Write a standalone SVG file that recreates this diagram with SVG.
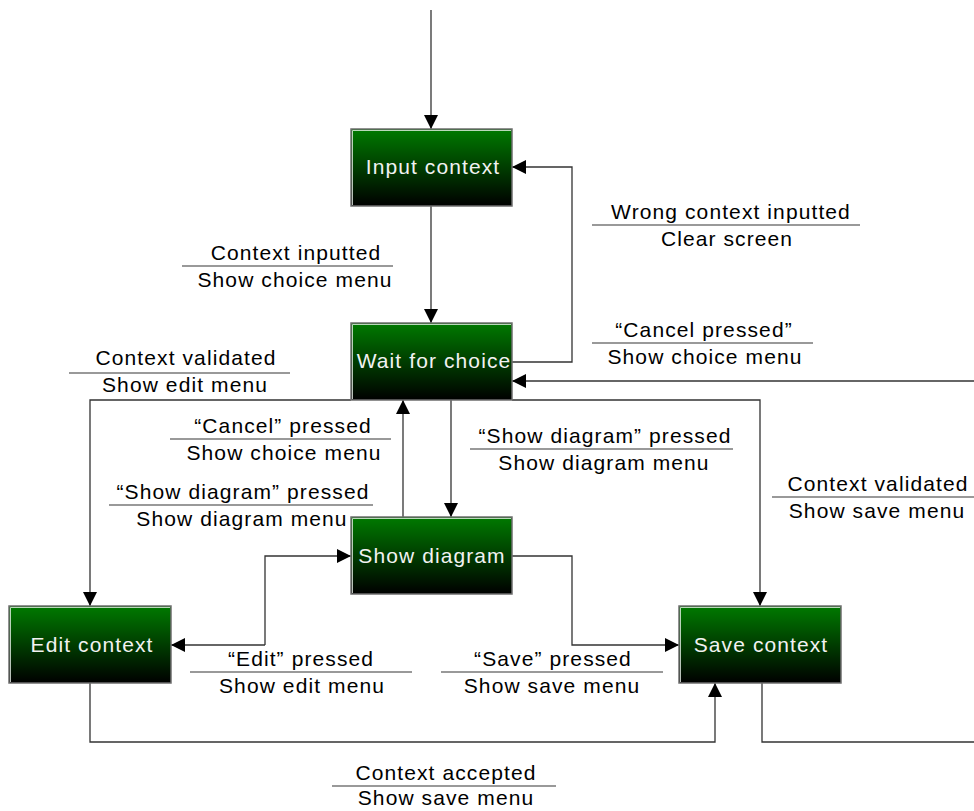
<svg xmlns="http://www.w3.org/2000/svg" width="974" height="811" viewBox="0 0 974 811">
  <defs>
    <linearGradient id="stateFill" x1="0" y1="0" x2="0" y2="1">
      <stop offset="0" stop-color="#007a00"/>
      <stop offset="1" stop-color="#000000"/>
    </linearGradient>
    <marker id="arrow" viewBox="0 0 14 14" refX="14" refY="7" markerWidth="14" markerHeight="14" markerUnits="userSpaceOnUse" orient="auto">
      <path d="M0,0 L14,7 L0,14 Z" fill="#000"/>
    </marker>
  </defs>
  <style>
    .state rect.body { fill: url(#stateFill); stroke: #6e6e6e; stroke-width: 1.5; }
    .state path.shine { fill: none; stroke: #e8f0e8; stroke-width: 1; opacity: 0.8; }
    .state text { font-family: "Liberation Sans", Arial, sans-serif; font-size: 21px; letter-spacing: 1.1px; fill: #f2f2f2; text-anchor: middle; }
    .conn path { fill: none; stroke: #333; stroke-width: 1.3; }
    .conn path.arr { marker-end: url(#arrow); }
    .label text { font-family: "Liberation Sans", Arial, sans-serif; font-size: 21px; letter-spacing: 1.1px; fill: #000; text-anchor: middle; }
    .label line { stroke: #777; stroke-width: 1.3; }
  </style>

  <!-- transitions -->
  <g id="connectors" class="conn">
    <path class="arr" d="M431,10 V129"/>
    <path class="arr" d="M431,206 V323"/>
    <path class="arr" d="M512,362 H572 V167 H512"/>
    <path class="arr" d="M974,381 H512"/>
    <path class="arr" d="M351,400 H90 V606"/>
    <path class="arr" d="M512,400 H760 V606"/>
    <path class="arr" d="M403,517 V400"/>
    <path class="arr" d="M451,400 V517"/>
    <path class="arr" d="M265,645 H171"/>
    <path class="arr" d="M265,645 V556 H351"/>
    <path class="arr" d="M512,556 H572 V645 H679"/>
    <path class="arr" d="M90,683 V742 H715 V683"/>
    <path d="M762,683 V742 H974"/>
  </g>

  <!-- states -->
  <g id="input-context" class="state">
    <rect class="body" x="351" y="129" width="161" height="77"/>
    <path class="shine" d="M352.5,205 V130.5 H511"/>
    <text x="433" y="174">Input context</text>
  </g>
  <g id="wait-for-choice" class="state">
    <rect class="body" x="351" y="323" width="161" height="77"/>
    <path class="shine" d="M352.5,399 V324.5 H511"/>
    <text x="434" y="368">Wait for choice</text>
  </g>
  <g id="show-diagram" class="state">
    <rect class="body" x="351" y="517" width="161" height="77"/>
    <path class="shine" d="M352.5,593 V518.5 H511"/>
    <text x="432" y="563">Show diagram</text>
  </g>
  <g id="edit-context" class="state">
    <rect class="body" x="9" y="606" width="162" height="77"/>
    <path class="shine" d="M10.5,682 V607.5 H170"/>
    <text x="92" y="652">Edit context</text>
  </g>
  <g id="save-context" class="state">
    <rect class="body" x="679" y="606" width="162" height="77"/>
    <path class="shine" d="M680.5,682 V607.5 H840"/>
    <text x="761" y="652">Save context</text>
  </g>

  <!-- event / action labels -->
  <g id="label-wrong-context" class="label">
    <text x="731" y="219">Wrong context inputted</text>
    <line x1="592" y1="225" x2="860" y2="225"/>
    <text x="727" y="246">Clear screen</text>
  </g>
  <g id="label-cancel-right" class="label">
    <text x="704" y="337">“Cancel pressed”</text>
    <line x1="592" y1="343" x2="813" y2="343"/>
    <text x="705" y="364">Show choice menu</text>
  </g>
  <g id="label-context-inputted" class="label">
    <text x="296" y="260">Context inputted</text>
    <line x1="182" y1="266" x2="393" y2="266"/>
    <text x="295" y="287">Show choice menu</text>
  </g>
  <g id="label-validated-edit" class="label">
    <text x="186" y="365">Context validated</text>
    <line x1="69" y1="373" x2="290" y2="373"/>
    <text x="185" y="392">Show edit menu</text>
  </g>
  <g id="label-cancel-left" class="label">
    <text x="283" y="433">“Cancel” pressed</text>
    <line x1="170" y1="439" x2="391" y2="439"/>
    <text x="284" y="460">Show choice menu</text>
  </g>
  <g id="label-show-diagram-left" class="label">
    <text x="243" y="499">“Show diagram” pressed</text>
    <line x1="109" y1="505" x2="373" y2="505"/>
    <text x="242" y="526">Show diagram menu</text>
  </g>
  <g id="label-show-diagram-right" class="label">
    <text x="605" y="443">“Show diagram” pressed</text>
    <line x1="470" y1="449" x2="733" y2="449"/>
    <text x="604" y="470">Show diagram menu</text>
  </g>
  <g id="label-validated-save" class="label">
    <text x="878" y="491">Context validated</text>
    <line x1="772" y1="497" x2="974" y2="497"/>
    <text x="877" y="518">Show save menu</text>
  </g>
  <g id="label-edit-pressed" class="label">
    <text x="301" y="666">“Edit” pressed</text>
    <line x1="190" y1="672" x2="412" y2="672"/>
    <text x="302" y="693">Show edit menu</text>
  </g>
  <g id="label-save-pressed" class="label">
    <text x="553" y="666">“Save” pressed</text>
    <line x1="441" y1="672" x2="663" y2="672"/>
    <text x="552" y="693">Show save menu</text>
  </g>
  <g id="label-context-accepted" class="label">
    <text x="446" y="780">Context accepted</text>
    <line x1="332" y1="786" x2="556" y2="786"/>
    <text x="446" y="805">Show save menu</text>
  </g>
</svg>
